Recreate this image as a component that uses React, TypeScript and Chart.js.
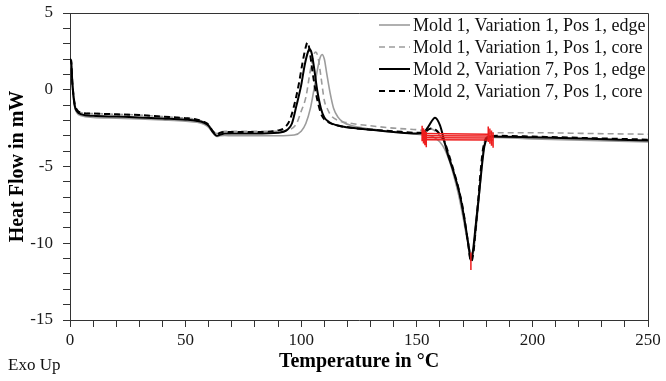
import React, { useEffect, useRef } from "react";
import { Chart, registerables } from "chart.js";

Chart.register(...registerables);

const FONT = '"Liberation Serif", "Times New Roman", Times, serif';

// ---- labels ----
const seriesLabels = [
  "Mold 1, Variation 1, Pos 1, edge",
  "Mold 1, Variation 1, Pos 1, core",
  "Mold 2, Variation 7, Pos 1, edge",
  "Mold 2, Variation 7, Pos 1, core",
];
const xTitle = "Temperature in °C";
const yTitle = "Heat Flow in mW";
const cornerNote = "Exo Up";

// ---- axes ----
const xMin = 0;
const xMax = 250;
const xMinorStep = 10;
const xLabelEvery = 50;
const yMin = -15;
const yMax = 5;
const yMinorStep = 1;
const yLabelEvery = 5;

// ---- Mold 1, Variation 1, Pos 1, edge ----
const m1EdgeT = [0, 0.5, 1, 2, 3, 5, 10, 20, 30, 40, 50, 55, 58, 60, 62, 63.5, 65, 67, 70, 80, 90, 97, 100, 102, 104, 105.5, 107, 108.2, 109, 110, 111, 112.5, 114, 116, 118, 122, 130, 140, 150, 153, 156, 158, 160, 162, 164, 166, 168, 170, 172, 174, 175, 176.2, 177.3, 178.3, 179.4, 180.5, 183, 200, 225, 250];
const m1EdgeHF = [1.7, 1.6, 0.3, -1.1, -1.5, -1.7, -1.8, -1.85, -1.9, -1.97, -2.05, -2.12, -2.25, -2.45, -2.85, -3.05, -3.0, -2.98, -3.0, -3.0, -3.0, -2.95, -2.7, -2.2, -1.2, 0.0, 1.3, 2.1, 2.3, 2.0, 1.1, -0.2, -1.2, -1.8, -2.1, -2.35, -2.55, -2.75, -2.9, -2.95, -3.0, -3.15, -3.4, -3.85, -4.6, -5.6, -6.8, -8.3, -9.9, -10.9, -10.0, -8.2, -6.3, -4.6, -3.5, -3.15, -3.1, -3.2, -3.3, -3.4];

// ---- Mold 1, Variation 1, Pos 1, core ----
const m1CoreT = [0, 0.5, 1, 2, 3, 5, 10, 20, 30, 40, 50, 55, 58, 60, 62, 63.5, 65, 67, 70, 80, 90, 95, 98, 100, 102, 104, 105.5, 106.3, 107.3, 108.5, 110, 111.5, 113, 116, 120, 130, 140, 150, 153, 156, 158, 160, 162, 164, 166, 168, 170, 172, 173.8, 175, 176.2, 177.2, 178.2, 179.3, 180.5, 183, 200, 225, 250];
const m1CoreHF = [1.8, 1.7, 0.4, -0.9, -1.3, -1.5, -1.55, -1.6, -1.65, -1.75, -1.85, -1.95, -2.1, -2.3, -2.7, -2.85, -2.75, -2.7, -2.7, -2.7, -2.7, -2.6, -2.2, -1.4, -0.5, 1.3, 2.3, 2.45, 2.1, 0.9, -0.7, -1.3, -1.7, -2.0, -2.15, -2.35, -2.5, -2.6, -2.65, -2.55, -2.7, -3.0, -3.5, -4.3, -5.4, -6.5, -8.0, -9.7, -10.8, -9.8, -8.0, -6.5, -4.8, -3.4, -2.95, -2.8, -2.8, -2.85, -2.9];

// ---- Mold 2, Variation 7, Pos 1, edge ----
const m2EdgeT = [0, 0.5, 1, 2, 3, 5, 10, 20, 30, 40, 50, 55, 58, 60, 62, 63.5, 65, 67, 70, 80, 90, 94, 96, 98, 100, 101.5, 103, 103.5, 104.5, 105.5, 107, 108.5, 110, 112, 115, 120, 130, 140, 150, 152.7, 155, 157.9, 160, 161.5, 163, 166, 168.7, 171, 172.5, 173.3, 174.2, 175.5, 176.8, 178, 179.2, 180.5, 182, 200, 225, 250];
const m2EdgeHF = [1.9, 1.8, 0.5, -1.0, -1.4, -1.6, -1.7, -1.75, -1.8, -1.87, -1.95, -2.03, -2.15, -2.35, -2.8, -3.0, -2.92, -2.85, -2.85, -2.85, -2.8, -2.6, -2.2, -1.0, 0.3, 1.6, 2.5, 2.65, 2.4, 1.5, -0.1, -1.2, -1.8, -2.1, -2.3, -2.45, -2.6, -2.75, -2.85, -2.82, -2.4, -1.82, -2.3, -3.1, -4.0, -5.4, -6.9, -8.8, -10.3, -11.1, -10.6, -8.8, -7.0, -5.2, -3.7, -3.15, -3.05, -3.1, -3.2, -3.3];

// ---- Mold 2, Variation 7, Pos 1, core ----
const m2CoreT = [0, 0.5, 1, 2, 3, 5, 10, 20, 30, 40, 50, 55, 58, 60, 62, 63.5, 65, 67, 70, 80, 90, 93, 95, 97, 99, 100.5, 102, 102.7, 103.5, 104.5, 106, 107.5, 109, 111, 115, 120, 130, 140, 150, 153, 155, 156.5, 158, 160, 162, 164, 166, 168, 170, 172, 173.5, 174.5, 175.5, 176.5, 177.5, 178.5, 179.5, 181, 185, 200, 225, 250];
const m2CoreHF = [2.0, 1.9, 0.5, -0.9, -1.3, -1.5, -1.55, -1.6, -1.65, -1.75, -1.85, -1.95, -2.1, -2.3, -2.75, -2.9, -2.8, -2.75, -2.75, -2.75, -2.65, -2.45, -2.0, -1.0, 0.4, 1.7, 2.8, 3.07, 2.7, 1.6, 0.1, -1.0, -1.7, -2.05, -2.3, -2.45, -2.6, -2.7, -2.8, -2.8, -2.6, -2.5, -2.6, -2.9, -3.4, -4.3, -5.3, -6.4, -7.8, -9.8, -11.2, -10.6, -9.0, -7.3, -5.5, -4.0, -3.3, -3.05, -3.0, -3.05, -3.15, -3.25];

// ---- peak integration markers (red) ----
const integStartT = [152.3, 152.9, 153.5, 154.1];
const integStartHF = [-2.85, -3.0, -3.12, -3.25];
const integEndT = [180.9, 181.6, 182.3, 183.0];
const integEndHF = [-2.9, -3.02, -3.15, -3.28];
const integCapHalf = 0.5;
const peakMarkT = 173.4;
const peakMarkHF = [-10.6, -11.75];

const GREY = "#9c9c9c";
const BLACK = "#000000";
const RED = "#ee1d1d";

const seriesStyles = [
  { color: GREY, width: 1.6, dash: [] as number[] },
  { color: GREY, width: 1.6, dash: [6, 4] },
  { color: BLACK, width: 2, dash: [] as number[] },
  { color: BLACK, width: 2, dash: [6, 4] },
];

const toPts = (t: number[], v: number[]) => t.map((x, i) => ({ x, y: v[i] }));

function buildRedLines() {
  const pts: any[] = [];
  integStartT.forEach((t, i) => {
    pts.push({ x: t, y: integStartHF[i] });
    pts.push({ x: integEndT[i], y: integEndHF[i] });
    pts.push({ x: integEndT[i] + 0.01, y: null });
  });
  return pts;
}
function buildRedCaps() {
  const pts: any[] = [];
  integStartT.forEach((t, i) => {
    pts.push({ x: t, y: integStartHF[i] + integCapHalf });
    pts.push({ x: t, y: integStartHF[i] - integCapHalf });
    pts.push({ x: t, y: null });
    const e = integEndT[i];
    pts.push({ x: e, y: integEndHF[i] + integCapHalf });
    pts.push({ x: e, y: integEndHF[i] - integCapHalf });
    pts.push({ x: e, y: null });
  });
  pts.push({ x: peakMarkT, y: peakMarkHF[0] });
  pts.push({ x: peakMarkT, y: peakMarkHF[1] });
  return pts;
}

const decorPlugin = {
  id: "decor",
  afterDraw(chart: any) {
    const { ctx, chartArea: a } = chart;
    ctx.save();
    // frame top & right
    ctx.strokeStyle = "#333";
    ctx.lineWidth = 1;
    ctx.beginPath();
    ctx.moveTo(a.left, Math.round(a.top) + 0.5);
    ctx.lineTo(Math.round(a.right) + 0.5, Math.round(a.top) + 0.5);
    ctx.lineTo(Math.round(a.right) + 0.5, a.bottom);
    ctx.stroke();
    // legend
    const rowY = [25, 47, 69, 91];
    ctx.font = `18px ${FONT}`;
    ctx.textBaseline = "middle";
    ctx.textAlign = "left";
    seriesLabels.forEach((lab, i) => {
      const s = seriesStyles[i];
      ctx.strokeStyle = s.color;
      ctx.lineWidth = s.width;
      ctx.setLineDash(s.dash);
      ctx.beginPath();
      ctx.moveTo(379, rowY[i]);
      ctx.lineTo(410, rowY[i]);
      ctx.stroke();
      ctx.setLineDash([]);
      ctx.fillStyle = "#111";
      ctx.fillText(lab, 413, rowY[i] + 1);
    });
    // corner note
    ctx.font = `17px ${FONT}`;
    ctx.fillStyle = "#111";
    ctx.fillText(cornerNote, 8, 366);
    ctx.restore();
  },
};

export default function App() {
  const ref = useRef<HTMLCanvasElement | null>(null);
  useEffect(() => {
    if (!ref.current) return;
    const seriesT = [m1EdgeT, m1CoreT, m2EdgeT, m2CoreT];
    const seriesHF = [m1EdgeHF, m1CoreHF, m2EdgeHF, m2CoreHF];
    const curveSets = seriesLabels.map((label, i) => ({
      label,
      data: toPts(seriesT[i], seriesHF[i]),
      borderColor: seriesStyles[i].color,
      borderWidth: seriesStyles[i].width,
      borderDash: seriesStyles[i].dash,
      pointRadius: 0,
      fill: false,
      cubicInterpolationMode: "monotone" as const,
    }));
    // draw order: first dataset is drawn on top
    const datasets: any[] = [
      { label: "integration caps", data: buildRedCaps(), borderColor: RED, borderWidth: 1.5, pointRadius: 0, spanGaps: false },
      { label: "integration", data: buildRedLines(), borderColor: RED, borderWidth: 1.5, pointRadius: 0, spanGaps: false },
      curveSets[3],
      curveSets[2],
      curveSets[1],
      curveSets[0],
    ];
    const chart = new Chart(ref.current, {
      type: "line",
      data: { datasets },
      options: {
        animation: false,
        responsive: false,
        devicePixelRatio: 1,
        layout: { padding: { top: 13, right: 18, left: 0, bottom: 0 } },
        plugins: { legend: { display: false }, tooltip: { enabled: false } },
        scales: {
          x: {
            type: "linear",
            min: xMin,
            max: xMax,
            afterFit: (s: any) => { s.height = 61; s.paddingLeft = 0; s.paddingRight = 0; },
            grid: { drawOnChartArea: false, drawTicks: true, tickLength: 7, color: "#333" },
            border: { display: true, color: "#333", width: 1 },
            ticks: {
              stepSize: xMinorStep,
              autoSkip: false,
              maxRotation: 0,
              padding: 3,
              color: "#1a1a1a",
              font: { family: FONT, size: 17 },
              callback: (v: any) => (Number(v) % xLabelEvery === 0 ? String(v) : ""),
            },
            title: { display: true, text: xTitle, color: "#000", font: { family: FONT, size: 20, weight: "bold" }, padding: { top: 0, bottom: 7 } },
          },
          y: {
            type: "linear",
            min: yMin,
            max: yMax,
            afterFit: (s: any) => { s.width = 70; s.paddingTop = 0; s.paddingBottom = 0; },
            grid: { drawOnChartArea: false, drawTicks: true, tickLength: 7, color: "#333" },
            border: { display: true, color: "#333", width: 1 },
            ticks: {
              stepSize: yMinorStep,
              autoSkip: false,
              padding: 10,
              color: "#1a1a1a",
              font: { family: FONT, size: 17 },
              callback: (v: any) => (Number(v) % yLabelEvery === 0 ? String(v) : ""),
            },
            title: { display: true, text: yTitle, color: "#000", font: { family: FONT, size: 20, weight: "bold" }, padding: { top: 6, bottom: 0 } },
          },
        },
      },
      plugins: [decorPlugin],
    });
    return () => chart.destroy();
  }, []);
  return (
    <div style={{ position: "fixed", left: 0, top: 0, width: 666, height: 381, background: "#fff" }}>
      <canvas ref={ref} width={666} height={381} />
    </div>
  );
}
